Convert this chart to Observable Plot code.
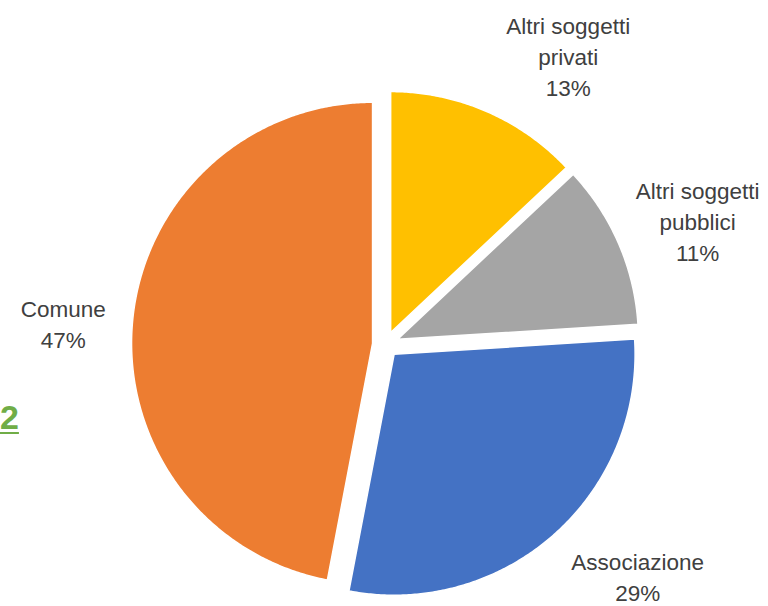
<!DOCTYPE html>
<html>
<head>
<meta charset="utf-8">
<script src="https://cdn.jsdelivr.net/npm/d3@7"></script>
<script src="https://cdn.jsdelivr.net/npm/@observablehq/plot@0.6"></script>
<style>
  html, body { margin: 0; padding: 0; background: #fff; }
  #wrap { position: relative; width: 768px; height: 606px; overflow: hidden; }
  #link { position: absolute; left: 0px; top: 398px; font-family: "Liberation Sans", Arial, sans-serif;
          font-weight: bold; font-size: 34px; color: #70AD47; text-decoration: underline;
          text-decoration-thickness: 2px; text-underline-offset: 3px; }
</style>
</head>
<body>
<div id="wrap"><div id="chart"></div><span id="link">2</span></div>
<script>
// ---- data ----
const categories = ["Altri soggetti privati", "Altri soggetti pubblici", "Associazione", "Comune"];
const labelNames = ["Altri soggetti\nprivati", "Altri soggetti\npubblici", "Associazione", "Comune"];
const shares = [13, 11, 29, 47];
const percentLabels = ["13%", "11%", "29%", "47%"];
const colors = ["#FFC000", "#A5A5A5", "#4472C4", "#ED7D31"];

// ---- layout ----
const W = 768, H = 606;
const cx = 385, cy = 344, R = 241, explode = 13;
const labelAngleShift = [8.9, 1.7, -6.1, -1.5]; // degrees
const labelRadius = [342, 336, 342, 323];

const pie = d3.pie().sort(null).value(d => d.share);
const table = categories.map((c, i) => ({name: c, share: shares[i], label: labelNames[i] + "\n" + percentLabels[i]}));
const arcs = pie(table);

const pts = [];
const labels = [];
arcs.forEach((a, i) => {
  const mid = (a.startAngle + a.endAngle) / 2;
  const ox = explode * Math.sin(mid), oy = -explode * Math.cos(mid);
  pts.push({name: a.data.name, x: ox, y: oy});
  const n = Math.max(8, Math.ceil((a.endAngle - a.startAngle) * 120));
  for (let k = 0; k <= n; k++) {
    const t = a.startAngle + (a.endAngle - a.startAngle) * k / n;
    pts.push({name: a.data.name, x: ox + R * Math.sin(t), y: oy - R * Math.cos(t)});
  }
  pts.push({name: a.data.name, x: ox, y: oy});
  const la = mid + labelAngleShift[i] * Math.PI / 180;
  labels.push({text: a.data.label, x: labelRadius[i] * Math.sin(la), y: -labelRadius[i] * Math.cos(la)});
});

const chart = Plot.plot({
  width: W, height: H, margin: 0,
  x: {domain: [-cx, W - cx], range: [0, W], axis: null},
  y: {domain: [-cy, H - cy], range: [0, H], axis: null},
  color: {domain: categories, range: colors},
  style: {background: "#fff"},
  marks: [
    Plot.line(pts, {x: "x", y: "y", z: "name", fill: "name", stroke: "#fff", strokeWidth: 1.5, curve: "linear-closed"}),
    Plot.text(labels, {x: "x", y: "y", text: "text", fontSize: 22.5, lineHeight: 1.37,
      fill: "#404040", fontFamily: "Liberation Sans, Arial, sans-serif"})
  ]
});
document.getElementById("chart").appendChild(chart);
</script>
</body>
</html>
